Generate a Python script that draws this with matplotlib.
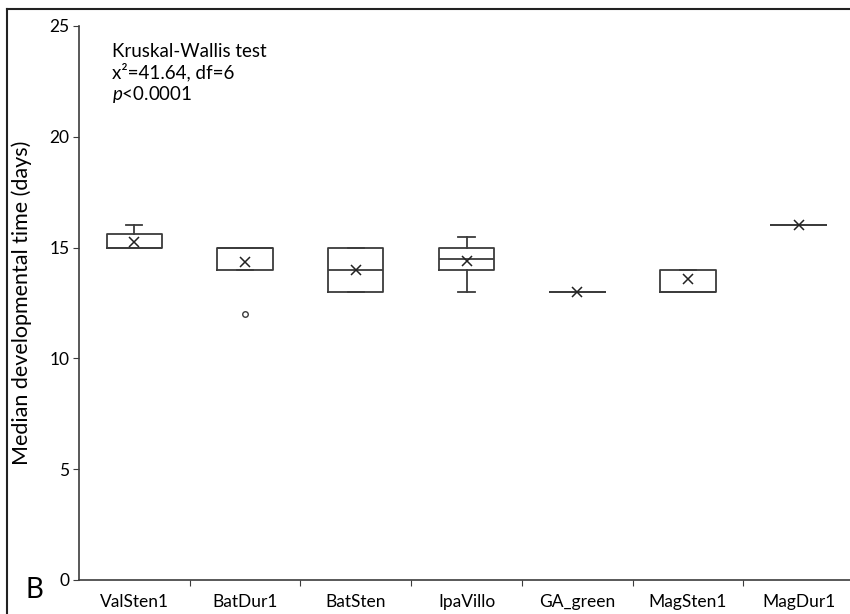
import matplotlib
matplotlib.use("Agg")
import matplotlib.pyplot as plt
from matplotlib.lines import Line2D

plt.rcParams['font.family'] = ['Lato', 'DejaVu Sans']
plt.rcParams['mathtext.fontset'] = 'custom'
plt.rcParams['mathtext.rm'] = 'Lato'
plt.rcParams['mathtext.it'] = 'Lato:italic'

# populations and their box statistics (days)
populations = ['ValSten1', 'BatDur1', 'BatSten', 'IpaVillo', 'GA_green', 'MagSten1', 'MagDur1']
q1 = [15.0, 14.0, 13.0, 14.0, 13.0, 13.0, 16.0]
medians = [15.0, 15.0, 14.0, 14.5, 13.0, 13.0, 16.0]
q3 = [15.63, 15.0, 15.0, 15.0, 13.0, 14.0, 16.0]
whis_lo = [15.0, 14.0, 13.0, 13.0, 13.0, 13.0, 16.0]
whis_hi = [16.0, 15.0, 15.0, 15.5, 13.0, 14.0, 16.0]
means = [15.24, 14.33, 14.0, 14.4, 13.0, 13.6, 16.0]
outliers = [[], [12.0], [], [], [], [], []]

yticks = [0, 5, 10, 15, 20, 25]

stats = []
for i, name in enumerate(populations):
    stats.append(dict(label=name, q1=q1[i], med=medians[i], q3=q3[i],
                      whislo=whis_lo[i], whishi=whis_hi[i], mean=means[i],
                      fliers=outliers[i]))

W, H = 850, 614
fig = plt.figure(figsize=(W / 100, H / 100), dpi=100)
ax = fig.add_axes([79 / W, (H - 580) / H, 775 / W, 554 / H])

line_c = '#3c3c3c'
lw = 1.3
ax.bxp(stats, positions=range(1, 8), widths=0.5, capwidths=0.145,
       showmeans=True, showfliers=True, patch_artist=False,
       boxprops=dict(color=line_c, linewidth=lw),
       medianprops=dict(color=line_c, linewidth=lw),
       whiskerprops=dict(color=line_c, linewidth=lw),
       capprops=dict(color=line_c, linewidth=lw),
       meanprops=dict(marker='x', markeredgecolor='#222222', markersize=7,
                      markeredgewidth=1.1),
       flierprops=dict(marker='o', markerfacecolor='none', markeredgecolor=line_c,
                       markersize=4, markeredgewidth=1.0))

ax.set_xlim(0.5, 7.5)
ax.set_ylim(0, 25)
ax.set_yticks(yticks)
# group boundaries get the tick marks, names sit between them
ax.set_xticks([1.5, 2.5, 3.5, 4.5, 5.5, 6.5], minor=False)
ax.set_xticks(range(1, 8), minor=True)
ax.set_xticklabels([])
ax.set_xticklabels(populations, minor=True)
ax.tick_params(axis='x', which='major', length=4, direction='out', color=line_c)
ax.tick_params(axis='x', which='minor', length=0, pad=10, labelsize=12.5)
ax.tick_params(axis='y', length=4, direction='out', labelsize=12.5, pad=3, color=line_c)
ax.spines['top'].set_visible(False)
ax.spines['right'].set_visible(False)
for s in ('left', 'bottom'):
    ax.spines[s].set_color(line_c)
    ax.spines[s].set_linewidth(1.2)

ax.set_ylabel('Median developmental time (days)', fontsize=15.5, labelpad=12)

ax.text(0.042, 0.97, 'Kruskal-Wallis test', transform=ax.transAxes, fontsize=13.5,
        va='top', ha='left')
ax.text(0.042, 0.934, 'x\u00b2=41.64, df=6', transform=ax.transAxes, fontsize=13.5,
        va='top', ha='left')
ax.text(0.042, 0.895, r'$p$<0.0001', transform=ax.transAxes, fontsize=13.5,
        va='top', ha='left')

fig.text(34 / W, 1 - 590 / H, 'B', fontsize=20, ha='center', va='center')

# frame around the panel
fig.add_artist(Line2D([7 / W, 1], [1 - 9 / H, 1 - 9 / H], color='#222222', lw=1.5))
fig.add_artist(Line2D([7 / W, 7 / W], [0, 1 - 9 / H], color='#222222', lw=1.5))

fig.savefig('out.png', dpi=100)
